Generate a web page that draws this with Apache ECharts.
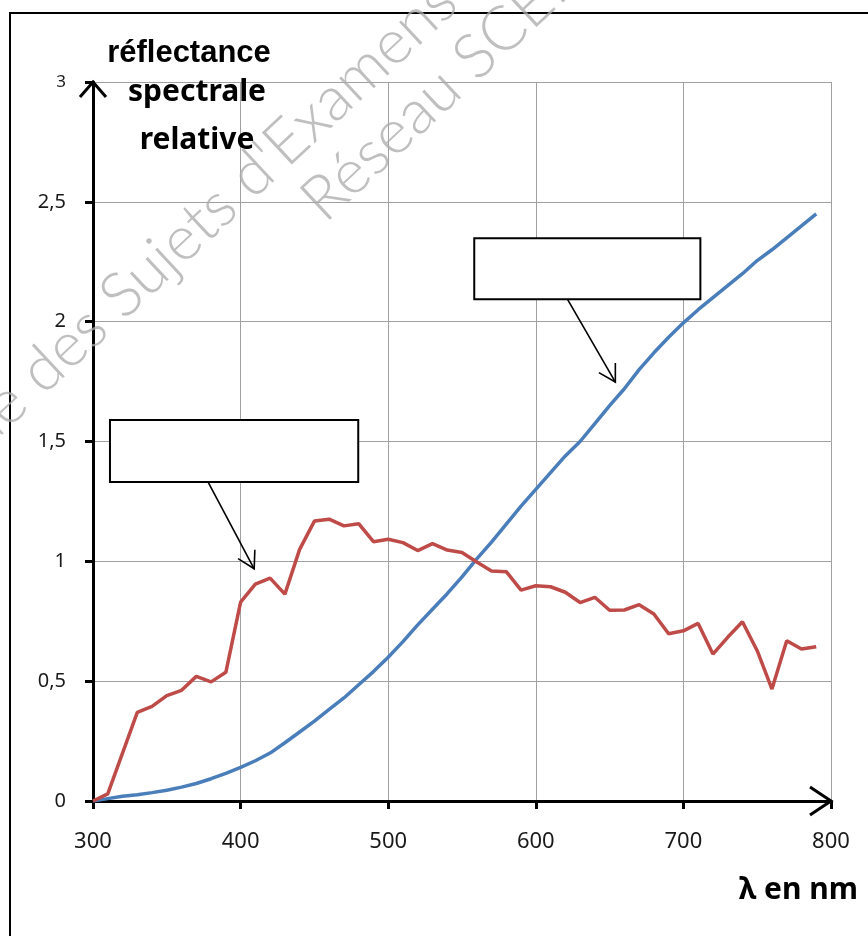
<!DOCTYPE html>
<html>
<head>
<meta charset="utf-8">
<script src="https://cdn.jsdelivr.net/npm/echarts/dist/echarts.min.js"></script>
<style>
  html, body { margin: 0; padding: 0; background: #fff; }
  #main { width: 868px; height: 936px; }
</style>
</head>
<body>
<div id="main"></div>
<script>
// longueurs d'onde (nm)
var lambdas = [300, 310, 320, 330, 340, 350, 360, 370, 380, 390,
               400, 410, 420, 430, 440, 450, 460, 470, 480, 490,
               500, 510, 520, 530, 540, 550, 560, 570, 580, 590,
               600, 610, 620, 630, 640, 650, 660, 670, 680, 690,
               700, 710, 720, 730, 740, 750, 760, 770, 780, 790];
// courbe rouge
var rouge = [0, 0.03, 0.2, 0.37, 0.395, 0.44, 0.462, 0.52, 0.497, 0.537,
             0.83, 0.905, 0.93, 0.863, 1.05, 1.168, 1.176, 1.148, 1.157, 1.082,
             1.092, 1.078, 1.045, 1.074, 1.047, 1.037, 0.997, 0.96, 0.957, 0.88,
             0.898, 0.894, 0.871, 0.828, 0.85, 0.796, 0.797, 0.819, 0.78, 0.698,
             0.71, 0.741, 0.613, 0.683, 0.748, 0.627, 0.467, 0.669, 0.634, 0.644];
// courbe bleue
var bleu = [0, 0.01, 0.02, 0.026, 0.035, 0.045, 0.058, 0.073, 0.093, 0.115,
            0.14, 0.168, 0.2, 0.243, 0.288, 0.333, 0.382, 0.43, 0.485, 0.54,
            0.6, 0.665, 0.735, 0.8, 0.865, 0.935, 1.01, 1.08, 1.155, 1.23,
            1.3, 1.37, 1.44, 1.5, 1.575, 1.65, 1.72, 1.8, 1.87, 1.935,
            1.995, 2.05, 2.1, 2.15, 2.2, 2.255, 2.3, 2.35, 2.4, 2.45];

// cadres vides + flèches (coordonnées dans le repère du graphe)
var boxes = [[558.3, 2.348, 711.5, 2.094], [311.5, 1.590, 479.7, 1.331]];
var arrows = [[621.4, 2.094, 653.9, 1.748], [378, 1.331, 409.2, 0.969]];

var myChart = echarts.init(document.getElementById('main'));

function pairs(ys) {
  return lambdas.map(function (l, i) { return [l, ys[i]]; });
}
function virgule(v) {
  return String(v).replace('.', ',');
}

var option = {
  animation: false,
  grid: { left: 93, top: 82, width: 738, height: 719 },
  xAxis: {
    type: 'value', min: 300, max: 800, interval: 100,
    axisLine: { show: true, lineStyle: { color: '#000', width: 3 } },
    axisTick: { show: true, length: 8, lineStyle: { color: '#000', width: 3 } },
    axisLabel: { margin: 30, fontSize: 22, color: '#1a1a1a', fontFamily: 'Noto Sans', formatter: virgule },
    splitLine: { show: true, lineStyle: { color: '#a0a0a0', width: 1 } }
  },
  yAxis: {
    type: 'value', min: 0, max: 3, interval: 0.5,
    axisLine: { show: true, lineStyle: { color: '#000', width: 3 } },
    axisTick: { show: true, length: 8, lineStyle: { color: '#000', width: 3 } },
    axisLabel: {
      margin: 27, fontSize: 20, color: '#1a1a1a', fontFamily: 'Noto Sans',
      formatter: function (v) { return v === 3 ? '{s|3}' : virgule(v); },
      rich: { s: { fontSize: 17, color: '#1a1a1a', fontFamily: 'Noto Sans' } }
    },
    splitLine: { show: true, lineStyle: { color: '#a0a0a0', width: 1 } }
  },
  series: [
    {
      name: 'bleu', type: 'line', showSymbol: false, symbol: 'none',
      lineStyle: { color: '#4A7EBB', width: 3.5 },
      data: pairs(bleu), z: 3
    },
    {
      name: 'rouge', type: 'line', showSymbol: false, symbol: 'none',
      lineStyle: { color: '#BE4B48', width: 3.5 },
      data: pairs(rouge), z: 4
    }
  ]
};
myChart.setOption(option);

function px(x, y) {
  return myChart.convertToPixel({ gridIndex: 0 }, [x, y]);
}
function head(tip, from, len, ang) {
  var a = Math.atan2(from[1] - tip[1], from[0] - tip[0]);
  return [
    [tip[0] + len * Math.cos(a + ang), tip[1] + len * Math.sin(a + ang)],
    tip,
    [tip[0] + len * Math.cos(a - ang), tip[1] + len * Math.sin(a - ang)]
  ];
}

var g = [];
// cadre extérieur
g.push({ type: 'polyline', shape: { points: [[10, 936], [10, 13], [868, 13]] },
         style: { stroke: '#000', lineWidth: 2, fill: null }, z: 50 });

// filigrane
g.push({ type: 'text', x: 158, y: 262, rotation: 43 * Math.PI / 180, z: 60,
         style: { text: "Banque des Sujets d'Examens", fill: 'rgba(170,170,170,0.75)',
                  font: '300 62px Lato', align: 'center', verticalAlign: 'middle' } });
g.push({ type: 'text', x: 472, y: 60, rotation: 43 * Math.PI / 180, z: 60,
         style: { text: 'Réseau SCEREN', fill: 'rgba(170,170,170,0.75)',
                  font: '300 62px Lato', align: 'center', verticalAlign: 'middle' } });

// flèches des axes
var yTop = px(300, 3), xEnd = px(800, 0);
g.push({ type: 'polyline', z: 55, shape: { points: [[yTop[0] - 13, yTop[1] + 15], yTop, [yTop[0] + 13, yTop[1] + 15]] },
         style: { stroke: '#000', lineWidth: 3, fill: null } });
g.push({ type: 'polyline', z: 55, shape: { points: [[xEnd[0] - 21, xEnd[1] - 14], xEnd, [xEnd[0] - 21, xEnd[1] + 14]] },
         style: { stroke: '#000', lineWidth: 3, fill: null } });

// cadres vides
boxes.forEach(function (b) {
  var p1 = px(b[0], b[1]), p2 = px(b[2], b[3]);
  g.push({ type: 'rect', z: 40,
           shape: { x: p1[0], y: p1[1], width: p2[0] - p1[0], height: p2[1] - p1[1] },
           style: { fill: '#fff', stroke: '#000', lineWidth: 2 } });
});
// flèches d'annotation
arrows.forEach(function (a) {
  var p1 = px(a[0], a[1]), p2 = px(a[2], a[3]);
  g.push({ type: 'line', z: 40, shape: { x1: p1[0], y1: p1[1], x2: p2[0], y2: p2[1] },
           style: { stroke: '#000', lineWidth: 1.6 } });
  g.push({ type: 'polyline', z: 40, shape: { points: head(p2, p1, 19, Math.PI / 6) },
           style: { stroke: '#000', lineWidth: 1.6, fill: null } });
});

// titres
g.push({ type: 'text', x: 189, y: 53, z: 58,
         style: { text: 'réflectance', font: 'bold 31px "Liberation Sans"', fill: '#000', align: 'center', verticalAlign: 'middle' } });
g.push({ type: 'text', x: 197, y: 92, z: 58,
         style: { text: 'spectrale', font: 'bold 30px "Noto Sans"', fill: '#000', align: 'center', verticalAlign: 'middle' } });
g.push({ type: 'text', x: 197, y: 140, z: 58,
         style: { text: 'relative', font: 'bold 30px "Noto Sans"', fill: '#000', align: 'center', verticalAlign: 'middle' } });
g.push({ type: 'text', x: 739, y: 890, z: 58,
         style: { text: 'λ en nm', font: 'bold 30px "Noto Sans"', fill: '#000', align: 'left', verticalAlign: 'middle' } });

myChart.setOption({ graphic: g });
</script>
</body>
</html>
